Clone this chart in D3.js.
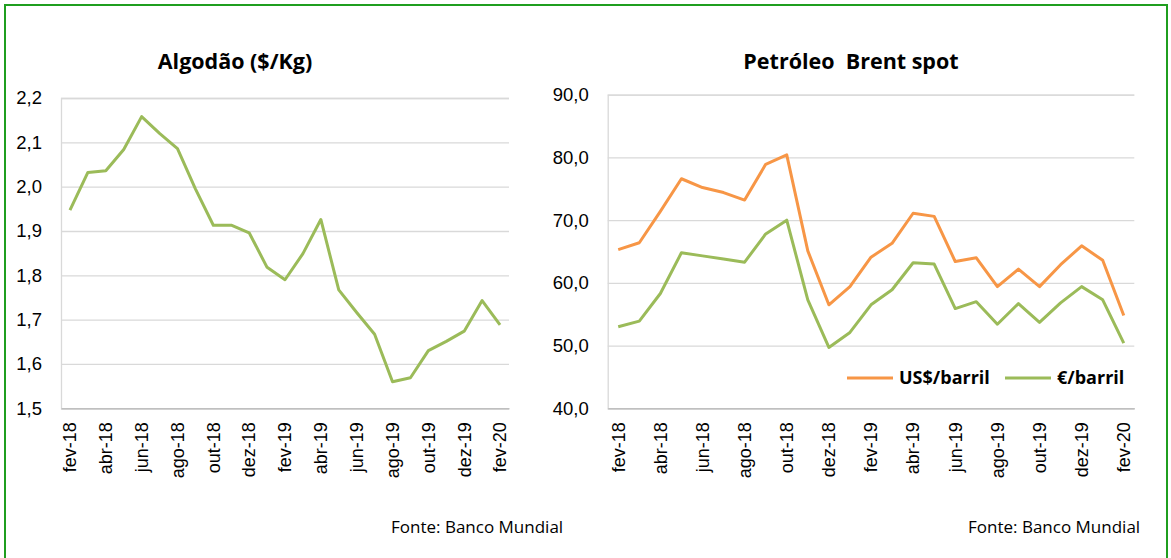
<!DOCTYPE html>
<html>
<head>
<meta charset="utf-8">
<script src="https://cdn.jsdelivr.net/npm/d3@7"></script>
<style>
  body { margin: 0; background: #fff; }
  svg { display: block; font-family: "Open Sans", sans-serif; }
</style>
</head>
<body>
<div id="chart"></div>
<script>
// months, fev-18 .. fev-20
const months = ["fev-18", "mar-18", "abr-18", "mai-18", "jun-18", "jul-18", "ago-18", "set-18", "out-18", "nov-18", "dez-18",
	"jan-19", "fev-19", "mar-19", "abr-19", "mai-19", "jun-19", "jul-19", "ago-19", "set-19", "out-19", "nov-19", "dez-19",
	"jan-20", "fev-20"];
const tickMonths = months.filter((d, i) => i % 2 === 0);

const cotton = [1.947, 2.032, 2.036, 2.084, 2.158, 2.12, 2.086, 1.995, 1.913, 1.913, 1.896,
	1.818, 1.79, 1.849, 1.926, 1.767, 1.716, 1.667, 1.56, 1.569, 1.63, 1.651, 1.674, 1.743, 1.688];

const brentUsd = [65.3, 66.4, 71.4, 76.6, 75.2, 74.4, 73.2, 78.9, 80.4, 65.1, 56.5,
	59.4, 64.1, 66.3, 71.1, 70.6, 63.4, 64.0, 59.4, 62.2, 59.4, 62.9, 65.9, 63.6, 54.8];
const brentEur = [53.0, 53.9, 58.3, 64.8, 64.3, 63.8, 63.3, 67.8, 70.0, 57.3, 49.7,
	52.1, 56.5, 58.9, 63.2, 63.0, 55.9, 57.0, 53.4, 56.7, 53.7, 56.8, 59.4, 57.3, 50.4];

const cottonTicks = [1.5, 1.6, 1.7, 1.8, 1.9, 2.0, 2.1, 2.2];
const brentTicks = [40, 50, 60, 70, 80, 90];

const seriesNames = ["US$/barril", "€/barril"];
const colors = {orange: "#F79646", green: "#9BBB59"};

const ptLocale = d3.formatLocale({decimal: ",", thousands: ".", grouping: [3], currency: ["", ""]});
const fmt1 = ptLocale.format(".1f");

const W = 1171, H = 558;
const svg = d3.select("#chart").append("svg")
	.attr("width", W)
	.attr("height", H);

// outer green frame
svg.append("rect")
	.attr("x", 5).attr("y", 5)
	.attr("width", 1162).attr("height", 600)
	.attr("fill", "none")
	.attr("stroke", "#1f9e1f")
	.attr("stroke-width", 2);

function drawChart(opts) {
	const x = d3.scaleBand()
		.domain(months)
		.range([opts.left, opts.right])
		.paddingInner(0).paddingOuter(0);
	const y = d3.scaleLinear()
		.domain(opts.yDomain)
		.range([408.3, opts.top]);

	const g = svg.append("g");

	// gridlines + y labels
	const yAxis = g.append("g")
		.attr("transform", "translate(" + opts.left + ",0)")
		.call(d3.axisLeft(y)
			.tickValues(opts.yTicks)
			.tickSize(-(opts.right - opts.left))
			.tickPadding(19)
			.tickFormat(fmt1));
	yAxis.select(".domain").attr("stroke", "#d9d9d9").attr("stroke-width", 1.3);
	yAxis.selectAll(".tick line").attr("stroke", "#d9d9d9").attr("stroke-width", 1.3);
	yAxis.selectAll(".tick text")
		.attr("fill", "#000")
		.style("font-size", "18.5px");

	// bottom axis
	const xAxis = g.append("g")
		.attr("transform", "translate(0," + y(opts.yDomain[0]) + ")")
		.call(d3.axisBottom(x).tickValues(tickMonths).tickSize(0));
	xAxis.select(".domain").attr("stroke", "#bfbfbf").attr("stroke-width", 1.5);
	xAxis.selectAll(".tick text")
		.attr("fill", "#000")
		.style("font-size", "18px")
		.attr("text-anchor", "end")
		.attr("dy", "0.35em")
		.attr("transform", "translate(0,14) rotate(-90)")
		.attr("x", 0).attr("y", 0);

	const line = d3.line()
		.x((d, i) => x(months[i]) + x.bandwidth() / 2)
		.y(d => y(d));

	opts.series.forEach(s => {
		g.append("path")
			.datum(s.values)
			.attr("d", line)
			.attr("fill", "none")
			.attr("stroke", s.color)
			.attr("stroke-width", 3)
			.attr("stroke-linejoin", "round");
	});

	g.append("text")
		.attr("x", opts.titleX).attr("y", 69)
		.attr("text-anchor", "middle")
		.style("font-size", "21.5px")
		.style("font-weight", "bold")
		.style("white-space", "pre")
		.text(opts.title);

	g.append("text")
		.attr("x", opts.sourceX).attr("y", 533)
		.style("font-size", "17px")
		.text("Fonte: Banco Mundial");

	return {g, x, y};
}

drawChart({
	left: 61, right: 509, top: 98, yDomain: [1.5, 2.2], yTicks: cottonTicks,
	series: [{values: cotton, color: colors.green}],
	title: "Algodão ($/Kg)", titleX: 235, sourceX: 391
});

const right = drawChart({
	left: 607.7, right: 1134.3, top: 94.7, yDomain: [40, 90], yTicks: brentTicks,
	series: [{values: brentUsd, color: colors.orange}, {values: brentEur, color: colors.green}],
	title: "Petróleo  Brent spot", titleX: 851, sourceX: 968
});

// legend
const legendItems = [
	{name: seriesNames[0], color: colors.orange, x: 847},
	{name: seriesNames[1], color: colors.green, x: 1005}
];
const legend = right.g.append("g").attr("transform", "translate(0,378)");
legendItems.forEach(d => {
	legend.append("line")
		.attr("x1", d.x).attr("x2", d.x + 46)
		.attr("y1", 0).attr("y2", 0)
		.attr("stroke", d.color).attr("stroke-width", 3);
	legend.append("text")
		.attr("x", d.x + 52).attr("y", 0)
		.attr("dy", "0.35em")
		.style("font-size", "18px")
		.style("font-weight", "bold")
		.text(d.name);
});
</script>
</body>
</html>
